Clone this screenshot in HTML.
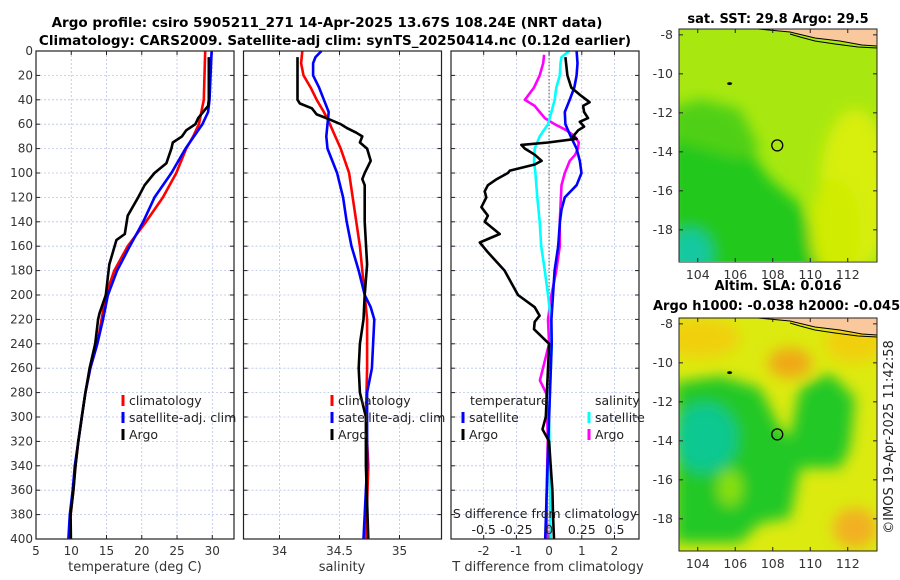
<!DOCTYPE html>
<html><head><meta charset="utf-8">
<style>
html,body{margin:0;padding:0;background:#fff;}
svg{display:block;font-family:"DejaVu Sans","Liberation Sans",sans-serif;}
</style></head>
<body>
<svg id="fig" width="900" height="580" viewBox="0 0 900 580">
<defs>
<filter id="blur1" x="-20%" y="-20%" width="140%" height="140%"><feGaussianBlur stdDeviation="7"/></filter>
<clipPath id="clipMap1"><rect x="679" y="29" width="198" height="232"/></clipPath>
<clipPath id="clipMap2"><rect x="679" y="318" width="198" height="233"/></clipPath>
</defs>
<text x="327" y="27" text-anchor="middle" font-size="13.5" font-weight="bold">Argo profile: csiro 5905211_271 14-Apr-2025 13.67S 108.24E (NRT data)</text>
<text x="335" y="45" text-anchor="middle" font-size="13.5" font-weight="bold">Climatology: CARS2009. Satellite-adj clim: synTS_20250414.nc (0.12d earlier)</text>
<g id="panels"></g>
<g id="maps"></g>
<text transform="translate(893,437) rotate(-90)" text-anchor="middle" font-size="13" fill="#222">©IMOS 19-Apr-2025 11:42:58</text>
</svg>
<script>
// ---- data ----
const depthTicks = [0,20,40,60,80,100,120,140,160,180,200,220,240,260,280,300,320,340,360,380,400];
const tempTicks = [5,10,15,20,25,30];
const salTicks = [34,34.5,35];
const salTickLabels = ['34','34.5','35'];
const tdiffTicks = [-2,-1,0,1,2];
const sdiffTickLabels = ['-0.5','-0.25','0','0.25','0.5'];
const sdiffTicks = [-0.5,-0.25,0,0.25,0.5];

const tClimDepth = [0,40,60,70,80,100,120,140,160,180,200,220,240,260,280,300,320,340,360,380,400];
const tClim = [29.0,28.8,28.1,27.3,26.3,24.9,23.0,20.6,18.0,16.1,14.9,14.3,13.7,12.7,12.0,11.5,11.0,10.6,10.3,9.9,9.7];
const tSatDepth = [0,40,50,60,80,100,120,140,160,180,200,220,240,260,280,300,320,340,360,380,400];
const tSat = [29.9,29.6,29.4,28.6,26.2,24.2,21.8,20.2,18.3,16.5,15.2,14.5,13.7,12.7,12.0,11.5,11.0,10.5,10.2,9.8,9.6];
const tArgoDepth = [5,40,45,50,55,60,65,70,75,80,85,92,100,110,120,135,150,155,175,200,215,220,240,260,280,300,320,340,360,380,400];
const tArgo = [29.5,29.5,29.4,28.7,28.0,27.6,26.3,25.7,24.4,24.2,23.9,23.5,21.8,20.4,19.5,18.0,17.6,16.4,15.4,14.9,14.0,13.8,13.4,12.6,12.0,11.5,11.0,10.6,10.3,9.9,9.95];

const sClimDepth = [0,10,20,30,40,50,60,80,100,120,140,160,180,200,220,260,300,340,400];
const sClim = [34.19,34.18,34.20,34.26,34.31,34.37,34.42,34.51,34.58,34.61,34.64,34.67,34.69,34.71,34.73,34.73,34.72,34.74,34.72];
const sSatDepth = [0,5,10,20,30,40,50,60,70,80,100,120,140,160,180,200,210,220,240,260,280,300,340,360,400];
const sSat = [34.35,34.30,34.28,34.28,34.33,34.37,34.41,34.40,34.39,34.40,34.48,34.53,34.56,34.60,34.66,34.71,34.76,34.79,34.78,34.77,34.73,34.73,34.73,34.72,34.70];
const sArgoDepth = [5,40,43,47,52,55,60,63,67,70,75,80,90,100,105,110,120,140,175,200,220,240,260,280,300,340,400];
const sArgo = [34.15,34.15,34.17,34.27,34.31,34.39,34.51,34.56,34.64,34.69,34.67,34.73,34.76,34.71,34.69,34.71,34.71,34.71,34.73,34.71,34.70,34.67,34.66,34.67,34.72,34.72,34.74];

const dTArgoDepth = [5,20,30,37,42,45,50,55,58,62,65,70,72,75,77,80,85,90,93,98,100,105,110,115,120,128,135,140,150,157,165,180,200,210,217,222,228,240,300,310,320,340,360,380,400];
const dTArgo = [0.5,0.56,0.68,0.99,1.24,1.04,1.07,1.19,0.94,1.07,0.89,0.73,0.84,-0.03,-0.85,-0.74,-0.44,-0.23,-0.44,-1.2,-1.26,-1.6,-1.87,-1.97,-1.92,-2.07,-1.87,-1.97,-1.51,-2.12,-1.87,-1.36,-0.95,-0.44,-0.29,-0.44,-0.46,0.0,-0.1,-0.2,0.0,0.05,0.1,0.12,0.15];
const dTSatDepth = [0,10,20,30,40,50,60,70,80,90,100,110,120,130,140,160,180,200,220,240,300,360,400];
const dTSat = [0.84,0.87,0.84,0.77,0.63,0.48,0.50,0.66,0.84,0.94,0.99,0.84,0.48,0.38,0.33,0.28,0.17,0.12,0.07,0.08,0.0,-0.07,-0.12];
const dSSatDepth = [0,5,10,20,30,40,50,60,70,80,90,100,120,140,160,180,200,220,240,300,400];
const dSSat = [0.153,0.095,0.087,0.082,0.055,0.043,0.018,-0.008,-0.072,-0.11,-0.115,-0.105,-0.09,-0.072,-0.06,-0.033,-0.008,0.013,0.02,0.0,0.012];
const dSArgoDepth = [3,10,20,30,40,45,50,55,60,65,70,75,80,85,90,100,110,120,140,160,180,200,220,240,270,281,318,367,400];
const dSArgo = [-0.038,-0.045,-0.072,-0.115,-0.185,-0.11,-0.072,-0.033,0.043,0.133,0.197,0.227,0.22,0.2,0.158,0.12,0.095,0.09,0.082,0.082,0.055,0.018,-0.008,0.0,-0.07,-0.02,-0.01,-0.02,-0.015];

// ---- layout ----
const NS='http://www.w3.org/2000/svg';
const Y0=51, Y1=539, DMAX=400;
function yOf(d){return Y0+(d/DMAX)*(Y1-Y0);}
function mk(tag,attrs,parent){const e=document.createElementNS(NS,tag);for(const k in attrs)e.setAttribute(k,attrs[k]);parent.appendChild(e);return e;}
const root=document.getElementById('panels');

function makePanel(name,x0,x1,vmin,vmax,ticks,labels,showY){
  const g=mk('g',{},root);
  
  
  const xs=v=>x0+(v-vmin)/(vmax-vmin)*(x1-x0);
  for(const t of ticks){const l=mk('line',{x1:xs(t),x2:xs(t),y1:Y0,y2:Y1,stroke:'#b8c4e8','stroke-width':0.8,'stroke-dasharray':'2,2'},g);
    
    }
  for(const d of depthTicks){if(d===0||d===DMAX)continue;const l=mk('line',{x1:x0,x2:x1,y1:yOf(d),y2:yOf(d),stroke:'#b8c4e8','stroke-width':0.8,'stroke-dasharray':'2,2'},g);
    
    }
  for(let i=0;i<ticks.length;i++){const x=xs(ticks[i]);
    mk('line',{x1:x,x2:x,y1:Y1,y2:Y1-4,stroke:'#222'},g);mk('line',{x1:x,x2:x,y1:Y0,y2:Y0+4,stroke:'#222'},g);
    if(labels){const t=mk('text',{x:x,y:Y1+16,'text-anchor':'middle','font-size':12,fill:'#333'},g);t.textContent=labels[i];
      
      }}
  for(const d of depthTicks){const y=yOf(d);
    mk('line',{x1:x0,x2:x0+4,y1:y,y2:y,stroke:'#222'},g);mk('line',{x1:x1,x2:x1-4,y1:y,y2:y,stroke:'#222'},g);
    if(showY){const t=mk('text',{x:x0-3,y:y+4,'text-anchor':'end','font-size':12,fill:'#333'},g);t.textContent=String(d);
      
      }}
  return {g,xs};
}
function drawLine(p,vals,depths,color,name,w){
  let d='';for(let i=0;i<vals.length;i++){d+=(i?'L':'M')+p.xs(vals[i]).toFixed(1)+','+yOf(depths[i]).toFixed(1);}
  const e=mk('path',{d:d,fill:'none',stroke:color,'stroke-width':w||2.6,'stroke-linejoin':'round'},p.g);
  
  
}
function frame(p,x0,x1){const r=mk('rect',{x:x0,y:Y0,width:x1-x0,height:Y1-Y0,fill:'none',stroke:'#222','stroke-width':1.2},p.g);
  
  }
function legendEntry(p,x,y,color,label,name){
  mk('rect',{x:x-1.5,y:y-10,width:3,height:11,fill:color},p.g);
  const t=mk('text',{x:x+6,y:y,'font-size':12.5,fill:'#222'},p.g);t.textContent=label;
  
  
}

const p1=makePanel('temperature-panel',36,234,5,33.08,tempTicks,tempTicks.map(String),true);
drawLine(p1,tClim,tClimDepth,'#ff0000','temp-climatology-line');
drawLine(p1,tSat,tSatDepth,'#0000ff','temp-satellite-line');
drawLine(p1,tArgo,tArgoDepth,'#000000','temp-argo-line');
frame(p1,36,234);
legendEntry(p1,123,405,'#ff0000','climatology','legend-entry-climatology');
legendEntry(p1,123,422,'#0000ff','satellite-adj. clim','legend-entry-satellite');
legendEntry(p1,123,439,'#000000','Argo','legend-entry-argo');
{const t=mk('text',{x:135,y:571,'text-anchor':'middle','font-size':13,fill:'#333'},p1.g);t.textContent='temperature (deg C)';

}

const p2=makePanel('salinity-panel',243.5,441.5,33.7,35.35,salTicks,salTickLabels,false);
drawLine(p2,sClim,sClimDepth,'#ff0000','sal-climatology-line');
drawLine(p2,sSat,sSatDepth,'#0000ff','sal-satellite-line');
drawLine(p2,sArgo,sArgoDepth,'#000000','sal-argo-line');
frame(p2,243.5,441.5);
legendEntry(p2,332,405,'#ff0000','climatology','legend-entry-climatology');
legendEntry(p2,332,422,'#0000ff','satellite-adj. clim','legend-entry-satellite');
legendEntry(p2,332,439,'#000000','Argo','legend-entry-argo');
{const t=mk('text',{x:342,y:571,'text-anchor':'middle','font-size':13,fill:'#333'},p2.g);t.textContent='salinity';

}

const p3=makePanel('difference-panel',451,639,-3,2.75,tdiffTicks,tdiffTicks.map(String),false);
{const z=p3.xs(0);const l=mk('line',{x1:z,x2:z,y1:Y0,y2:Y1,stroke:'#555','stroke-width':1,'stroke-dasharray':'1.5,2'},p3.g);

}
drawLine(p3,dSArgo.map(v=>v*4),dSArgoDepth,'#ff00ff','sdiff-argo-line');
drawLine(p3,dSSat.map(v=>v*4),dSSatDepth,'#00ffff','sdiff-satellite-line');
drawLine(p3,dTSat,dTSatDepth,'#0000ff','tdiff-satellite-line');
drawLine(p3,dTArgo,dTArgoDepth,'#000000','tdiff-argo-line');
frame(p3,451,639);
{const t=mk('text',{x:470,y:405,'font-size':12.5,fill:'#222'},p3.g);t.textContent='temperature';

}
legendEntry(p3,463,422,'#0000ff','satellite','legend-entry-t-satellite');
legendEntry(p3,463,439,'#000000','Argo','legend-entry-t-argo');
{const t=mk('text',{x:595,y:405,'font-size':12.5,fill:'#222'},p3.g);t.textContent='salinity';

}
legendEntry(p3,589,422,'#00ffff','satellite','legend-entry-s-satellite');
legendEntry(p3,589,439,'#ff00ff','Argo','legend-entry-s-argo');
{const t=mk('text',{x:545,y:518,'text-anchor':'middle','font-size':12.5,fill:'#222'},p3.g);t.textContent='S difference from climatology';

}
for(let i=0;i<sdiffTicks.length;i++){const t=mk('text',{x:p3.xs(sdiffTicks[i]*4),y:534,'text-anchor':'middle','font-size':12.5,fill:'#222'},p3.g);t.textContent=sdiffTickLabels[i];

}
{const t=mk('text',{x:548,y:571,'text-anchor':'middle','font-size':13,fill:'#333'},p3.g);t.textContent='T difference from climatology';

}

// ---- maps ----
const lonTicks=[104,106,108,110,112];
const latTicks=[-8,-10,-12,-14,-16,-18];
const mapsG=document.getElementById('maps');
function makeMap(name,top,clip,base,blobs,title1,title2){
  const g=mk('g',{},mapsG);
  
  
  const X0=679,X1=877,H=233;
  const lx=lon=>X0+(lon-103)/(113.56-103)*(X1-X0);
  const ly=lat=>top+(-7.7-lat)/(19.65-7.7)*H;
  const cg=mk('g',{'clip-path':'url(#'+clip+')'},g);
  mk('rect',{x:X0,y:top,width:X1-X0,height:H,fill:base},cg);
  const bg=mk('g',{filter:'url(#blur1)'},cg);
  for(const b of blobs){ if(b.pts){mk('polygon',{points:b.pts.map(p=>p[0]+','+(p[1]+top)).join(' '),fill:b.c},bg);} else {mk('ellipse',{cx:b.x,cy:b.y+top,rx:b.rx,ry:b.ry,fill:b.c},bg);} }
  const land=mk('polygon',{points:[[758,0],[790,3],[815,9],[840,12],[862,16],[877,17],[877,0]].map(p=>p[0]+','+(p[1]+top)).join(' '),fill:'#f9c89c',stroke:'#000','stroke-width':1},cg);
  
  
  mk('polyline',{points:[[790,5],[800,8],[815,12],[835,15],[858,18],[877,19]].map(p=>p[0]+','+(p[1]+top)).join(' '),fill:'none',stroke:'#000','stroke-width':1},cg);
  mk('ellipse',{cx:lx(105.7),cy:ly(-10.5),rx:2.5,ry:1.5,fill:'#111'},cg);
  const c=mk('circle',{cx:lx(108.24),cy:ly(-13.67),r:5.5,fill:'none',stroke:'#000','stroke-width':1.3},cg);
  
  
  mk('rect',{x:X0,y:top,width:X1-X0,height:H,fill:'none',stroke:'#222','stroke-width':1},g);
  for(const lon of lonTicks){const x=lx(lon);mk('line',{x1:x,x2:x,y1:top+H,y2:top+H-4,stroke:'#222'},g);mk('line',{x1:x,x2:x,y1:top,y2:top+4,stroke:'#222'},g);
    const t=mk('text',{x:x,y:top+H+17,'text-anchor':'middle','font-size':12.5,fill:'#333'},g);t.textContent=String(lon);
    
    }
  for(const lat of latTicks){const y=ly(lat);mk('line',{x1:X0,x2:X0+4,y1:y,y2:y,stroke:'#222'},g);mk('line',{x1:X1,x2:X1-4,y1:y,y2:y,stroke:'#222'},g);
    const t=mk('text',{x:X0-6,y:y+4,'text-anchor':'end','font-size':12.5,fill:'#333'},g);t.textContent=String(lat);
    
    }
  let t=mk('text',{x:778,y:top-(title2?28:6),'text-anchor':'middle','font-size':13,'font-weight':'bold'},g);t.textContent=title1;
  
  
  if(title2){t=mk('text',{x:653,y:top-8,'font-size':13,'font-weight':'bold'},g);t.textContent=title2;
    
    }
}
makeMap('sst-map',29,'clipMap1','#a8e810',[
  {pts:[[670,95],[735,100],[770,150],[800,175],[812,205],[825,240],[830,245],[830,245],[670,245]],c:'#22c81e'},
  {pts:[[670,80],[700,70],[740,80],[760,120],[740,130],[670,110]],c:'#50d018'},
  {x:690,y:225,rx:22,ry:25,c:'#14c8a0'},
  {x:855,y:160,rx:35,ry:80,c:'#d8ee08'},
  {x:835,y:200,rx:25,ry:50,c:'#d0ec06'}
],'sat. SST: 29.8 Argo: 29.5',null);
makeMap('sla-map',318,'clipMap2','#dcea10',[
  {pts:[[675,65],[720,58],[760,70],[780,110],[790,120],[800,70],[830,55],[855,80],[850,130],[840,150],[800,150],[790,200],[760,205],[740,225],[675,225]],c:'#22c825'},
  {x:705,y:120,rx:32,ry:35,c:'#10c890'},
  {x:730,y:170,rx:12,ry:18,c:'#8ae010'},
  {x:790,y:45,rx:22,ry:15,c:'#f0a818'},
  {x:855,y:210,rx:22,ry:20,c:'#f2b020'},
  {x:700,y:20,rx:40,ry:20,c:'#f0d010'},
  {x:855,y:25,rx:30,ry:20,c:'#f0d010'}
],'Altim. SLA: 0.016','Argo h1000: -0.038 h2000: -0.045');
</script>
</body></html>
